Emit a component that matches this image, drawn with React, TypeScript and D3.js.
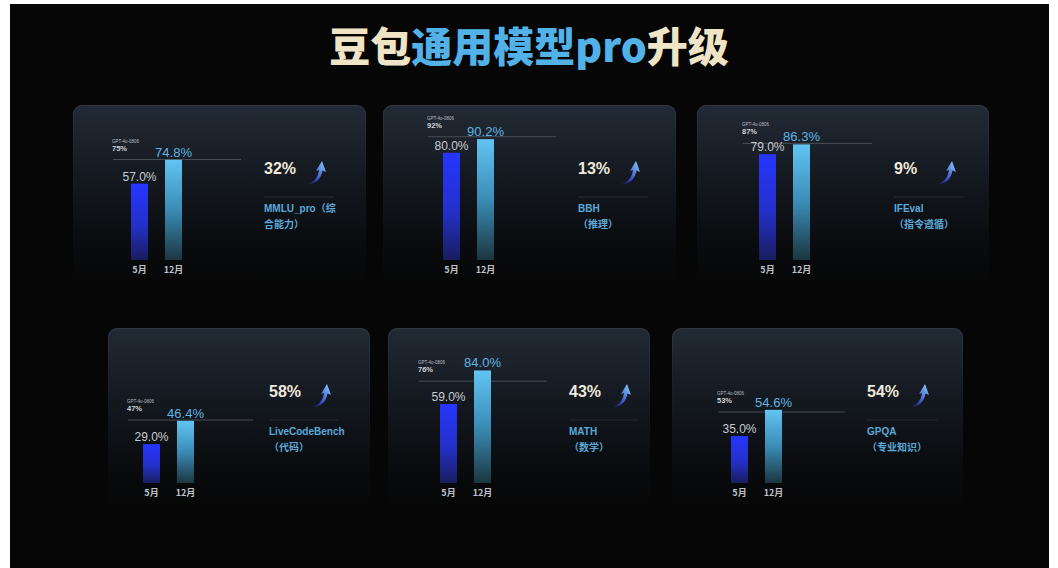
import React from "react";
import * as d3 from "d3";

// ---------- data ----------
const labelLine1 = ["MMLU_pro（综", "BBH", "IFEval", "LiveCodeBench", "MATH", "GPQA"];
const labelLine2 = ["合能力）", "（推理）", "（指令遵循）", "（代码）", "（数学）", "（专业知识）"];
const months = ["5月", "12月"];
const mayValues = [57.0, 80.0, 79.0, 29.0, 59.0, 35.0];
const decValues = [74.8, 90.2, 86.3, 46.4, 84.0, 54.6];
const gptValues = [75, 92, 87, 47, 76, 53];
const gptLabel = "GPT-4o-0806";
const growth = ["32%", "13%", "9%", "58%", "43%", "54%"];
const titleParts = ["豆包", "通用模型pro", "升级"];

// ---------- layout ----------
const cardLayout = [
  { x: 73, y: 105, w: 293, barLeft: 131, lineX0: 113, lineX1: 241, textX: 264 },
  { x: 383, y: 105, w: 293, barLeft: 443, lineX0: 428, lineX1: 556, textX: 578 },
  { x: 697, y: 105, w: 292, barLeft: 759, lineX0: 743, lineX1: 872, textX: 894 },
  { x: 108, y: 328, w: 262, barLeft: 143, lineX0: 128, lineX1: 253, textX: 269 },
  { x: 388, y: 328, w: 262, barLeft: 440, lineX0: 419, lineX1: 547, textX: 569 },
  { x: 672, y: 328, w: 291, barLeft: 731, lineX0: 718, lineX1: 845, textX: 867 },
];

const W = 1058;
const H = 568;
const LATIN = "'Liberation Sans', Arial, 'Noto Sans CJK SC', sans-serif";
const CJK = "'Noto Sans CJK SC', 'Liberation Sans', sans-serif";

const arrowPath =
  "M0,23 C7,22 12,17 13,9 L10,10 L16,0 L20,11 L16.5,9.5 C15,19 8,24 0,23 Z";

function Card({ i }: { i: number }) {
  const L = cardLayout[i];
  const base = L.y + 155;
  const y = d3.scaleLinear().domain([0, 100]).range([base, base - 134]);
  const x = d3
    .scaleBand<string>()
    .domain(months)
    .range([L.barLeft, L.barLeft + 51])
    .paddingInner(0.5)
    .paddingOuter(0);
  const vals = [mayValues[i], decValues[i]];
  const gy = y(gptValues[i]);
  const pctY = L.y + 69;
  return (
    <g>
      <rect x={L.x} y={L.y} width={L.w} height={180} rx={9} fill="url(#cardGrad)" />
      <rect
        x={L.x + 0.5}
        y={L.y + 0.5}
        width={L.w - 1}
        height={179}
        rx={9}
        fill="none"
        stroke="url(#cardStroke)"
        strokeWidth={1}
      />
      {/* gpt reference line */}
      <line x1={L.lineX0} x2={L.lineX1} y1={gy} y2={gy} stroke="#474d55" strokeWidth={1} />
      <text x={L.lineX0 - 1} y={gy - 17} fontSize={4.5} fill="#b8bcc2" fontFamily={LATIN}>
        {gptLabel}
      </text>
      <text x={L.lineX0 - 1} y={gy - 9} fontSize={7.5} fontWeight="bold" fill="#d0d2d6" fontFamily={LATIN}>
        {gptValues[i]}%
      </text>
      {/* bars */}
      {months.map((m, j) => (
        <g key={m}>
          <rect
            x={x(m)}
            y={y(vals[j])}
            width={x.bandwidth()}
            height={base - y(vals[j])}
            fill={j === 0 ? "url(#barMay)" : "url(#barDec)"}
          />
          <text
            x={(x(m) as number) + x.bandwidth() / 2}
            y={y(vals[j]) - 3}
            textAnchor="middle"
            fontSize={j === 0 ? 12 : 13}
            fill={j === 0 ? "#c9cbd0" : "#5fb4e2"}
            fontFamily={LATIN}
          >
            {vals[j].toFixed(1)}%
          </text>
          <text
            x={(x(m) as number) + x.bandwidth() / 2}
            y={base + 13}
            textAnchor="middle"
            fontSize={9}
            fontWeight="bold"
            fill="#bfc3c9"
            fontFamily={CJK}
          >
            {m}
          </text>
        </g>
      ))}
      {/* right side */}
      <text x={L.textX} y={pctY} fontSize={16} fontWeight="bold" fill="#efe9da" fontFamily={LATIN}>
        {growth[i]}
      </text>
      <g transform={`translate(${L.textX + 42},${pctY - 13})`}>
        <path d={arrowPath} fill="url(#arrowGrad)" />
      </g>
      <line
        x1={L.textX}
        x2={L.textX + 70}
        y1={pctY + 23}
        y2={pctY + 23}
        stroke="#262c34"
        strokeWidth={1}
      />
      <text x={L.textX} y={pctY + 38} fontSize={10} fontWeight="bold" fill="#5aa9da" fontFamily={LATIN}>
        {labelLine1[i]}
      </text>
      <text x={L.textX} y={pctY + 54} fontSize={10} fontWeight="bold" fill="#5aa9da" fontFamily={LATIN}>
        {labelLine2[i]}
      </text>
    </g>
  );
}

export default function App() {
  return (
    <svg width={W} height={H} style={{ position: "absolute", left: 0, top: 0, display: "block" }}>
      <defs>
        <linearGradient id="cardGrad" x1="0" y1="0" x2="0" y2="1">
          <stop offset="0%" stopColor="#222a35" />
          <stop offset="40%" stopColor="#141920" />
          <stop offset="75%" stopColor="#0a0c0f" />
          <stop offset="100%" stopColor="#060606" />
        </linearGradient>
        <linearGradient id="cardStroke" x1="0" y1="0" x2="0" y2="1">
          <stop offset="0%" stopColor="#38414c" stopOpacity={0.6} />
          <stop offset="35%" stopColor="#2a3038" stopOpacity={0.15} />
          <stop offset="100%" stopColor="#000" stopOpacity={0} />
        </linearGradient>
        <linearGradient id="barMay" x1="0" y1="0" x2="0" y2="1">
          <stop offset="0%" stopColor="#2636ff" />
          <stop offset="55%" stopColor="#2430c8" />
          <stop offset="100%" stopColor="#181d5e" />
        </linearGradient>
        <linearGradient id="barDec" x1="0" y1="0" x2="0" y2="1">
          <stop offset="0%" stopColor="#62c4f2" />
          <stop offset="50%" stopColor="#3a8cb6" />
          <stop offset="100%" stopColor="#1b3640" />
        </linearGradient>
        <linearGradient id="arrowGrad" x1="0" y1="1" x2="1" y2="0">
          <stop offset="0%" stopColor="#2a2a90" stopOpacity={0} />
          <stop offset="35%" stopColor="#3447c8" />
          <stop offset="100%" stopColor="#8fd6ff" />
        </linearGradient>
      </defs>
      <rect x={0} y={0} width={W} height={H} fill="#ffffff" />
      <rect x={10} y={4} width={1039} height={H - 4} fill="#060606" />
      <text x={529} y={62} textAnchor="middle" fontSize={41} fontWeight={900} fontFamily={CJK}>
        <tspan fill="#efe4c6">{titleParts[0]}</tspan>
        <tspan fill="#52b2e8">{titleParts[1]}</tspan>
        <tspan fill="#efe4c6">{titleParts[2]}</tspan>
      </text>
      {cardLayout.map((_, i) => (
        <Card key={i} i={i} />
      ))}
    </svg>
  );
}
